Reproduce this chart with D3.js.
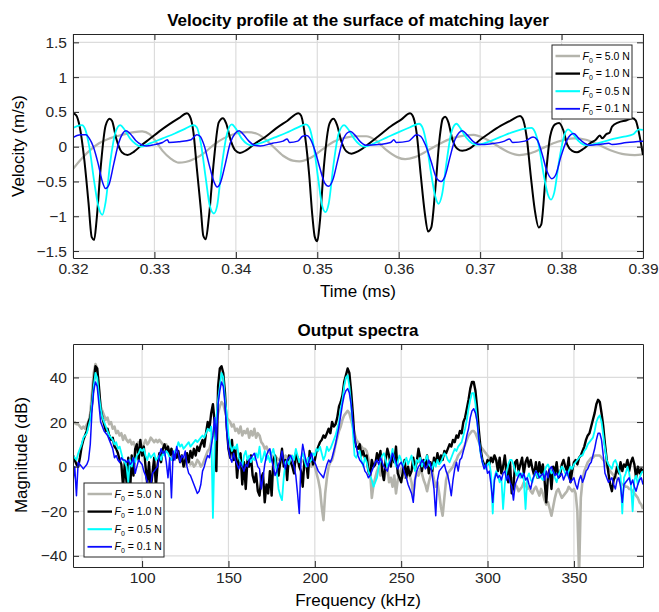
<!DOCTYPE html>
<html>
<head>
<meta charset="utf-8">
<script src="https://cdn.jsdelivr.net/npm/d3@7"></script>
<style>
  body { margin: 0; background: #fff; }
  svg { display: block; font-family: "Liberation Sans", Arial, Helvetica, sans-serif; }
</style>
</head>
<body>
<div id="chart"></div>
<script>
// series order everywhere: F0 = 5.0, 1.0, 0.5, 0.1 N
const forceLabels = ["5.0", "1.0", "0.5", "0.1"];
const lineColors = ["#b4b4ac", "#000000", "#00ffff", "#0a0aff"];
const lineWidths = [2.2, 2, 1.8, 1.5];

const timeTicks = [0.32, 0.33, 0.34, 0.35, 0.36, 0.37, 0.38, 0.39];
const velocityTicks = [-1.5, -1, -0.5, 0, 0.5, 1, 1.5];
const freqTicks = [100, 150, 200, 250, 300, 350];
const magTicks = [-40, -20, 0, 20, 40];

// velocity at matching layer surface: [time (ms), velocity (m/s)]
const vel50 = [
  [0.3200, -0.32], [0.3210, -0.18], [0.3220, -0.06], [0.3232, 0.05], [0.3245, 0.12], [0.3260, 0.17],
  [0.3275, 0.21], [0.3285, 0.22], [0.3294, 0.18], [0.3302, 0.07], [0.3310, -0.06], [0.3320, -0.17],
  [0.3330, -0.23], [0.3338, -0.22], [0.3350, -0.17], [0.3362, -0.08], [0.3372, 0.02], [0.3385, 0.12],
  [0.3400, 0.19], [0.3414, 0.21], [0.3425, 0.19], [0.3435, 0.12], [0.3446, 0.00], [0.3458, -0.13],
  [0.3470, -0.20], [0.3478, -0.21], [0.3492, -0.16], [0.3505, -0.05], [0.3520, 0.07], [0.3535, 0.13],
  [0.3550, 0.15], [0.3560, 0.15], [0.3572, 0.09], [0.3585, -0.05], [0.3598, -0.15], [0.3608, -0.18],
  [0.3620, -0.15], [0.3635, -0.06], [0.3650, 0.04], [0.3665, 0.12], [0.3680, 0.16], [0.3692, 0.17],
  [0.3705, 0.12], [0.3720, 0.02], [0.3735, -0.08], [0.3748, -0.12], [0.3760, -0.10], [0.3775, -0.03],
  [0.3795, 0.07], [0.3815, 0.12], [0.3830, 0.10], [0.3845, 0.03], [0.3860, -0.05], [0.3878, -0.11],
  [0.3890, -0.12], [0.3900, -0.11]
];
const vel10 = [
  [0.3200, 0.48], [0.3204, 0.45], [0.3208, 0.30], [0.3214, -0.20], [0.3219, -0.80], [0.3223, -1.30],
  [0.3226, -1.34], [0.3229, -1.05], [0.3234, -0.30], [0.3240, 0.30], [0.3245, 0.40], [0.3248, 0.37],
  [0.3253, 0.12], [0.3260, -0.08], [0.3267, -0.12], [0.3275, -0.07], [0.3284, 0.02], [0.3294, 0.11],
  [0.3306, 0.22], [0.3318, 0.32], [0.3330, 0.41], [0.3340, 0.48], [0.3343, 0.45], [0.3348, 0.20],
  [0.3352, -0.30], [0.3357, -0.90], [0.3360, -1.28], [0.3363, -1.33], [0.3367, -1.00], [0.3373, -0.20],
  [0.3379, 0.35], [0.3384, 0.41], [0.3388, 0.34], [0.3394, 0.08], [0.3399, -0.05], [0.3405, -0.09],
  [0.3413, -0.05], [0.3423, 0.04], [0.3436, 0.14], [0.3449, 0.26], [0.3463, 0.37], [0.3477, 0.48],
  [0.3480, 0.45], [0.3485, 0.15], [0.3490, -0.40], [0.3494, -1.00], [0.3497, -1.30], [0.3500, -1.36],
  [0.3503, -1.10], [0.3508, -0.30], [0.3515, 0.33], [0.3520, 0.40], [0.3524, 0.32], [0.3530, 0.06],
  [0.3536, -0.07], [0.3542, -0.10], [0.3551, -0.06], [0.3562, 0.03], [0.3575, 0.15], [0.3590, 0.29],
  [0.3603, 0.39], [0.3614, 0.48], [0.3617, 0.45], [0.3622, 0.20], [0.3627, -0.40], [0.3632, -0.95],
  [0.3636, -1.22], [0.3640, -1.16], [0.3645, -0.60], [0.3650, 0.10], [0.3654, 0.40], [0.3657, 0.43],
  [0.3661, 0.35], [0.3666, 0.10], [0.3672, -0.03], [0.3678, -0.06], [0.3688, -0.02], [0.3700, 0.10],
  [0.3712, 0.20], [0.3725, 0.30], [0.3738, 0.38], [0.3749, 0.44], [0.3752, 0.41], [0.3757, 0.15],
  [0.3762, -0.40], [0.3767, -0.90], [0.3772, -1.16], [0.3775, -1.12], [0.3780, -0.50], [0.3786, 0.15],
  [0.3792, 0.32], [0.3797, 0.34], [0.3802, 0.24], [0.3807, 0.03], [0.3813, -0.06], [0.3819, -0.08],
  [0.3827, -0.03], [0.3835, 0.05], [0.3842, 0.10], [0.3847, 0.16], [0.3850, 0.12], [0.3855, 0.18],
  [0.3859, 0.20], [0.3862, 0.29], [0.3870, 0.35], [0.3880, 0.38], [0.3887, 0.41], [0.3891, 0.38],
  [0.3895, 0.20], [0.3900, -0.12]
];
const vel05 = [
  [0.3200, 0.27], [0.3206, 0.30], [0.3211, 0.31], [0.3215, 0.25], [0.3220, 0.00], [0.3226, -0.50],
  [0.3231, -0.85], [0.3236, -0.98], [0.3240, -0.80], [0.3246, -0.20], [0.3252, 0.20], [0.3258, 0.31],
  [0.3263, 0.25], [0.3270, 0.12], [0.3277, 0.04], [0.3283, 0.00], [0.3295, 0.05], [0.3310, 0.12],
  [0.3325, 0.19], [0.3338, 0.26], [0.3348, 0.31], [0.3352, 0.28], [0.3357, 0.05], [0.3363, -0.45],
  [0.3368, -0.85], [0.3373, -0.96], [0.3377, -0.85], [0.3383, -0.25], [0.3389, 0.18], [0.3395, 0.32],
  [0.3400, 0.26], [0.3407, 0.12], [0.3414, 0.04], [0.3420, 0.02], [0.3432, 0.06], [0.3447, 0.13],
  [0.3462, 0.20], [0.3475, 0.27], [0.3486, 0.32], [0.3490, 0.28], [0.3495, 0.05], [0.3501, -0.45],
  [0.3506, -0.85], [0.3510, -0.94], [0.3514, -0.82], [0.3520, -0.25], [0.3526, 0.18], [0.3533, 0.31],
  [0.3538, 0.25], [0.3545, 0.12], [0.3552, 0.03], [0.3558, 0.00], [0.3570, 0.05], [0.3585, 0.13],
  [0.3600, 0.21], [0.3614, 0.28], [0.3625, 0.33], [0.3629, 0.28], [0.3634, 0.05], [0.3640, -0.40],
  [0.3645, -0.72], [0.3649, -0.82], [0.3653, -0.70], [0.3659, -0.20], [0.3665, 0.22], [0.3671, 0.33],
  [0.3676, 0.26], [0.3683, 0.13], [0.3690, 0.05], [0.3696, 0.03], [0.3710, 0.07], [0.3725, 0.14],
  [0.3740, 0.21], [0.3755, 0.26], [0.3763, 0.27], [0.3767, 0.22], [0.3772, 0.02], [0.3778, -0.40],
  [0.3783, -0.68], [0.3787, -0.76], [0.3791, -0.66], [0.3797, -0.20], [0.3803, 0.15], [0.3808, 0.25],
  [0.3813, 0.20], [0.3820, 0.09], [0.3827, 0.03], [0.3833, 0.02], [0.3845, 0.05], [0.3860, 0.10],
  [0.3875, 0.14], [0.3888, 0.18], [0.3895, 0.25], [0.3900, 0.24]
];
const vel01 = [
  [0.3200, 0.13], [0.3205, 0.16], [0.3210, 0.17], [0.3216, 0.17], [0.3220, 0.12], [0.3225, 0.00],
  [0.3231, -0.25], [0.3236, -0.50], [0.3240, -0.60], [0.3244, -0.55], [0.3250, -0.25], [0.3256, 0.05],
  [0.3261, 0.19], [0.3265, 0.23], [0.3270, 0.19], [0.3277, 0.09], [0.3284, 0.03], [0.3290, 0.01],
  [0.3300, 0.03], [0.3310, 0.06], [0.3316, 0.10], [0.3318, 0.06], [0.3330, 0.07], [0.3345, 0.10],
  [0.3352, 0.17], [0.3356, 0.15], [0.3361, 0.02], [0.3367, -0.25], [0.3373, -0.50], [0.3377, -0.58],
  [0.3381, -0.52], [0.3387, -0.25], [0.3393, 0.05], [0.3399, 0.19], [0.3404, 0.23], [0.3409, 0.18],
  [0.3416, 0.08], [0.3423, 0.02], [0.3430, 0.01], [0.3445, 0.05], [0.3458, 0.08], [0.3463, 0.11],
  [0.3466, 0.06], [0.3476, 0.08], [0.3482, 0.15], [0.3487, 0.16], [0.3491, 0.12], [0.3497, -0.05],
  [0.3503, -0.30], [0.3509, -0.52], [0.3514, -0.57], [0.3519, -0.48], [0.3525, -0.20], [0.3531, 0.08],
  [0.3537, 0.20], [0.3541, 0.22], [0.3546, 0.17], [0.3553, 0.07], [0.3560, 0.02], [0.3575, 0.03],
  [0.3590, 0.06], [0.3594, 0.10], [0.3597, 0.06], [0.3612, 0.08], [0.3622, 0.17], [0.3627, 0.15],
  [0.3633, 0.02], [0.3640, -0.22], [0.3646, -0.44], [0.3652, -0.50], [0.3657, -0.42], [0.3663, -0.15],
  [0.3669, 0.10], [0.3674, 0.20], [0.3678, 0.23], [0.3684, 0.17], [0.3692, 0.07], [0.3700, 0.03],
  [0.3712, 0.04], [0.3730, 0.08], [0.3736, 0.11], [0.3740, 0.06], [0.3755, 0.08], [0.3765, 0.14],
  [0.3770, 0.10], [0.3776, -0.10], [0.3782, -0.35], [0.3788, -0.46], [0.3793, -0.40], [0.3799, -0.15],
  [0.3806, 0.08], [0.3811, 0.17], [0.3815, 0.19], [0.3821, 0.12], [0.3828, 0.05], [0.3835, 0.02],
  [0.3850, 0.04], [0.3858, 0.05], [0.3862, 0.03], [0.3880, 0.06], [0.3900, 0.08]
];

// output spectra, one value (dB) per kHz from 60 to 390 kHz
const freqKHz = d3.range(60, 391);
const mag50 = [
  19, 20, 19, 19, 18, 17, 18, 17, 19, 20,
  24, 33, 42, 46, 44, 34, 27, 25, 23, 21,
  22, 19, 20, 17, 18, 15, 16, 14, 15, 12,
  14, 12, 11, 12, 10, 11, 9, 10, 11, 9,
  8, 10, 12, 10, 11, 13, 12, 11, 12, 11,
  12, 11, 10, 9, 10, 8, 7, 8, 6, 5,
  5, 4, 3, 4, 2, 0, 2, 3, 1, 2,
  0, 1, 3, 2, 0, 1, 3, 5, 7, 8,
  11, 14, 17, 20, 24, 27, 29, 28, 25, 22,
  21, 20, 18, 19, 16, 17, 15, 18, 14, 16,
  15, 17, 13, 16, 14, 17, 13, 15, 14, 11,
  10, 8, 9, 7, 6, 5, 4, 3, 4, 3,
  3, 2, 3, 5, 4, 3, 5, 4, 3, 2,
  4, 3, 2, 3, 2, 3, 1, 2, 0, 1,
  0, -3, -6, -10, -18, -24, -12, -5, 0, 2,
  3, 6, 10, 13, 16, 18, 21, 23, 24, 25,
  24, 21, 18, 15, 12, 11, 10, 9, 8, 8,
  7, 4, -2, -14, -8, -5, -2, 0, -4, -3,
  -6, -2, 0, -7, -5, -9, -4, -12, -6, -3,
  -1, 0, -5, -3, -2, -4, -7, -13, -6, -2,
  -4, -1, -3, -6, -8, -11, -7, -4, -2, -6,
  -9, -7, -12, -18, -22, -14, -6, -3, -2, -1,
  0, 2, 3, 5, 6, 7, 8, 10, 12, 14,
  15, 16, 16, 15, 13, 11, 9, 8, 7, 6,
  5, 4, 3, 4, 5, 3, 2, 1, 0, -1,
  0, -3, -4, -6, -5, -7, -8, -9, -11, -10,
  -9, -7, -8, -10, -9, -11, -12, -10, -9, -11,
  -13, -10, -12, -15, -17, -16, -19, -22, -18, -14,
  -11, -10, -12, -14, -13, -12, -11, -9, -10, -11,
  -10, -12, -20, -48, -14, -6, -2, 0, 2, 3,
  4, 4, 5, 5, 5, 5, 4, 3, 2, 0,
  -1, -2, -3, -4, -5, -5, -6, -7, -8, -8,
  -9, -9, -10, -10, -11, -12, -13, -14, -16, -17,
  -19
];
const mag10 = [
  5, 3, 1, 0, 4, 9, 12, 14, 16, 20,
  22, 28, 38, 45, 44, 36, 26, 22, 19, 16,
  17, 14, 12, 13, 9, 8, 6, 3, 1, -9,
  2, -7, 4, -12, 5, -4, 8, 10, 3, 12,
  5, 9, 0, -8, 2, -10, -3, 4, -9, 1,
  6, 2, 8, 10, 7, 9, 5, 8, 3, 6,
  4, 7, 2, 5, 0, 3, 6, 2, 7, 4,
  8, 5, 9, 7, 10, 12, 9, 15, 20, 17,
  24, 28, 20, -2, 36, 44, 45, 42, 33, 18,
  8, 4, 12, 3, 8, -5, 4, 6, -8, 2,
  -10, 3, 0, 5, -4, -7, -3, -11, -13, -5,
  -3, -16, -8, -12, -2, -13, 3, 5, 0, -4,
  2, 8, 0, 3, -6, 5, 2, 0, -3, 6,
  4, 0, -2, -9, 3, 2, -5, 7, 4, 1,
  3, 7, 9, 11, 12, 14, 13, 15, 17, 15,
  20, 18, 19, 22, 27, 29, 32, 38, 41, 44,
  42, 34, 24, 12, 9, 8, 10, 5, 7, 4,
  5, -2, -4, 3, 0, 1, 6, 3, 7, -2,
  -6, 3, 8, 5, 0, 6, 2, 9, -3, -5,
  -7, -2, 3, -5, 0, -4, -2, 4, -1, 2,
  8, 4, -2, 3, 0, 5, -3, 2, -2, 4,
  1, 6, 2, 5, 3, 7, 6, 8, 10, 9,
  12, 11, 14, 13, 16, 15, 20, 22, 26, 30,
  35, 38, 38, 34, 26, 16, 8, 3, 1, 0,
  3, 1, 4, 2, 5, 3, -2, 4, -3, 0,
  5, -2, -7, 2, -12, -9, 2, 3, -2, 1,
  4, -3, 2, 4, 0, 3, -1, -4, 2, -5,
  2, -3, 1, -6, -16, -4, -1, -10, 0, -3,
  2, -5, -4, 1, 3, 0, -2, 4, -7, -2,
  2, 3, 1, 4, 5, 7, 9, 12, 14, 15,
  18, 21, 24, 28, 30, 29, 24, 18, 10, 3,
  -3, -8, -11, -6, -4, 0, -3, 2, -2, 1,
  0, 3, -2, 2, 4, 1, -5, 0, -3, -1,
  -2
];
const mag05 = [
  5, 4, 3, 6, 8, 10, 13, 14, 15, 18,
  21, 28, 36, 42, 40, 32, 26, 22, 20, 18,
  16, 14, 13, 12, 10, 11, 8, 9, 6, 3,
  2, 0, -7, 3, 0, 4, 2, 5, 6, 8,
  7, 8, 5, 3, 6, 4, 5, 6, 3, 4,
  5, 3, 6, 5, 7, 6, 4, 3, 5, 7,
  8, 11, 9, 10, 8, 9, 10, 11, 9, 10,
  11, 12, 11, 12, 13, 14, 13, 15, 17, 16,
  18, -23, 10, 22, 30, 36, 42, 40, 30, 24,
  14, 10, 7, 9, 8, 10, 4, 2, 0, 5,
  7, 3, 5, 2, 4, 3, 6, 4, 9, 2,
  4, 7, 3, 5, 2, 6, 8, 4, -3, -10,
  -13, -15, -5, 2, 3, 1, 4, 5, 3, 8,
  5, 2, 4, 6, 3, 0, 4, 2, 3, 6,
  5, 8, 7, 9, 6, 3, 5, 9, 7, 8,
  10, 12, 14, 17, 20, 26, 30, 36, 40, 41,
  36, 28, 16, 5, 4, 6, 7, 3, 0, 4,
  2, -2, -4, -6, -9, -7, -5, 0, 3, 5,
  6, 3, 0, 2, 4, 8, 3, 0, 2, 5,
  3, 0, 2, 4, 1, 3, 5, 1, -2, 3,
  2, 4, 0, 2, 3, 5, 1, 0, -1, 2,
  0, 3, 1, 2, 4, 6, 5, 3, 2, 4,
  6, 8, 7, 9, 10, 11, 14, 17, 21, 26,
  30, 33, 33, 28, 20, 12, 6, 2, 0, -1,
  1, 2, -3, -21, -5, -2, -4, -7, -5, -19,
  -8, -2, 1, 3, 3, 1, -2, -4, -2, -5,
  -3, -6, -19, -5, -3, -6, -7, -4, -2, -5,
  -3, -5, -6, -2, 0, 1, -1, -3, -2, -5,
  -7, -4, -2, 0, -1, -3, -4, -2, 0, -1,
  1, 2, 3, 4, 5, 5, 7, 8, 10, 11,
  12, 13, 16, 20, 22, 23, 20, 14, 8, 3,
  1, 0, -1, 2, 3, 1, -2, -4, -21, -5,
  -3, 0, -3, -8, -20, -6, -4, -8, -5, -3,
  -2
];
const mag01 = [
  -7, 0, -13, 2, 1, 0, -1, 0, 1, 3,
  10, 25, 34, 38, 36, 28, 20, 18, 16, 15,
  14, 12, 10, 8, 4, 5, 3, 2, 4, 3,
  3, 2, 3, 1, 2, 4, -3, 0, 3, 2,
  1, -2, -4, -7, -10, -8, -3, -2, -1, 0,
  5, 8, 6, 7, 2, -5, 4, -14, 7, 3,
  9, 6, 2, 5, 4, 7, 0, -3, -4, -6,
  -8, -10, -12, -11, -8, -2, 0, 3, 5, 4,
  9, 14, 22, 12, 28, 34, 38, 36, 28, 16,
  8, 4, 2, 6, 3, 1, -1, 2, 0, -2,
  1, 0, 3, 4, 5, 6, 3, 0, -1, -10,
  -5, 1, 5, 7, 8, 3, 0, -4, -2, 1,
  3, 7, 2, -1, 3, 4, 5, 3, 0, -4,
  -12, -21, 3, 10, 6, 2, 0, 4, 6, 3,
  2, 0, -2, -3, -4, -5, -2, 1, 3, 2,
  4, 7, 10, 14, 18, 23, 28, 32, 34, 35,
  33, 28, 20, 13, 9, 5, 3, 2, 1, -2,
  -3, -5, -4, -2, 0, 2, 3, 1, 4, 2,
  0, -1, -2, 1, 3, 6, 4, 2, -1, 1,
  2, 0, -3, -5, -8, -10, -12, -16, -6, -2,
  0, 1, 3, 2, -1, 0, 3, 1, -4, -10,
  -22, -6, -2, -1, 0, 1, -2, -4, -8, -13,
  -6, -1, 2, -2, 3, 4, 7, 10, 14, 17,
  22, 25, 26, 24, 20, 12, 6, 2, -1, 1,
  -3, -2, -8, -16, -6, -3, -5, -4, -6, -3,
  -2, -6, -4, -7, -9, -15, -8, -6, -4, -3,
  -5, -3, -6, -5, -8, -10, -6, -4, -2, -3,
  -5, -4, -3, -6, -2, -5, -1, 0, -2, -4,
  -3, -5, -4, -3, -6, -4, -2, -5, -7, -6,
  -5, -8, -10, -6, -4, -7, -5, -2, -1, 1,
  2, 5, 8, 12, 15, 15, 12, 5, -3, -5,
  -7, -6, -5, -8, -10, -6, -5, -9, -16, -8,
  -7, -6, -5, -8, -6, -9, -11, -8, -6, -5,
  -8
];

const width = 659;
const height = 612;
const tickFont = 15.5;
const labelFont = 17;

const svg = d3.select("#chart")
              .append("svg")
              .attr("width", width)
              .attr("height", height);

// one set of axes with grid, inward ticks on all sides and a box
function drawAxes(box, x, y, xTicks, yTicks, xFmt, yFmt, clipId) {
  const w = box.right - box.left;
  const h = box.bottom - box.top;

  // GRID
  const grid = svg.append("g");
  grid.selectAll(".vg")
      .data(xTicks)
      .join("line")
      .attr("x1", d => x(d)).attr("x2", d => x(d))
      .attr("y1", box.top).attr("y2", box.bottom)
      .attr("stroke", "#dcdcdc").attr("stroke-width", 1.2);
  grid.selectAll(".hg")
      .data(yTicks)
      .join("line")
      .attr("x1", box.left).attr("x2", box.right)
      .attr("y1", d => y(d)).attr("y2", d => y(d))
      .attr("stroke", "#dcdcdc").attr("stroke-width", 1.2);

  svg.append("clipPath")
     .attr("id", clipId)
     .append("rect")
     .attr("x", box.left).attr("y", box.top)
     .attr("width", w).attr("height", h);

  return function finish() {
    const style = a => {
      a.selectAll("path, line").attr("stroke", "#262626");
      a.selectAll("text").attr("font-size", tickFont).attr("fill", "#262626")
       .attr("font-family", "\"Liberation Sans\", Arial, sans-serif");
    };
    svg.append("g")
       .attr("transform", `translate(0,${box.bottom})`)
       .call(d3.axisBottom(x).tickValues(xTicks).tickFormat(xFmt)
               .tickSizeInner(-6).tickSizeOuter(0).tickPadding(5))
       .call(style);
    svg.append("g")
       .attr("transform", `translate(0,${box.top})`)
       .call(d3.axisTop(x).tickValues(xTicks).tickFormat("")
               .tickSizeInner(-6).tickSizeOuter(0))
       .call(style);
    svg.append("g")
       .attr("transform", `translate(${box.left},0)`)
       .call(d3.axisLeft(y).tickValues(yTicks).tickFormat(yFmt)
               .tickSizeInner(-6).tickSizeOuter(0).tickPadding(6))
       .call(style);
    svg.append("g")
       .attr("transform", `translate(${box.right},0)`)
       .call(d3.axisRight(y).tickValues(yTicks).tickFormat("")
               .tickSizeInner(-6).tickSizeOuter(0))
       .call(style);
  };
}

function drawLegend(lx, ly) {
  const legend = svg.append("g").attr("transform", `translate(${lx},${ly})`);
  legend.append("rect")
        .attr("width", 80).attr("height", 74)
        .attr("fill", "#fff").attr("stroke", "#262626").attr("stroke-width", 1);
  forceLabels.forEach((lab, i) => {
    const ry = 11 + i * 17.6;
    legend.append("line")
          .attr("x1", 3.5).attr("x2", 28)
          .attr("y1", ry).attr("y2", ry)
          .attr("stroke", lineColors[i])
          .attr("stroke-width", lineWidths[i] + 0.3);
    const t = legend.append("text")
                    .attr("x", 30.5).attr("y", ry + 3.6)
                    .attr("font-size", 10.5).attr("fill", "#000");
    t.append("tspan").attr("font-style", "italic").text("F");
    t.append("tspan").attr("font-size", 7).attr("dy", 3).text("0");
    t.append("tspan").attr("dy", -3).text(` = ${lab} N`);
  });
}

// ---------- TOP: VELOCITY PROFILE ----------
const topBox = { left: 73, right: 643, top: 34, bottom: 258 };
const xTime = d3.scaleLinear().domain([0.32, 0.39]).range([topBox.left, topBox.right]);
const yVel = d3.scaleLinear().domain([-1.6, 1.62]).range([topBox.bottom, topBox.top]);

const finishTop = drawAxes(topBox, xTime, yVel, timeTicks, velocityTicks,
                           d3.format(".2f"), d3.format("~g"), "clipTop");

const velLine = d3.line()
                  .x(d => xTime(d[0]))
                  .y(d => yVel(d[1]))
                  .curve(d3.curveMonotoneX);

[vel50, vel10, vel05, vel01].forEach((series, i) => {
  svg.append("path")
     .datum(series)
     .attr("clip-path", "url(#clipTop)")
     .attr("fill", "none")
     .attr("stroke", lineColors[i])
     .attr("stroke-width", lineWidths[i])
     .attr("stroke-linejoin", "round")
     .attr("d", velLine);
});
finishTop();
drawLegend(552, 45);

svg.append("text")
   .attr("x", 358).attr("y", 25.5)
   .attr("text-anchor", "middle")
   .attr("font-size", labelFont).attr("font-weight", "bold")
   .text("Velocity profile at the surface of matching layer");
svg.append("text")
   .attr("x", 358).attr("y", 297)
   .attr("text-anchor", "middle")
   .attr("font-size", labelFont)
   .text("Time (ms)");
svg.append("text")
   .attr("transform", "translate(24,146) rotate(-90)")
   .attr("text-anchor", "middle")
   .attr("font-size", labelFont)
   .text("Velocity (m/s)");

// ---------- BOTTOM: OUTPUT SPECTRA ----------
const botBox = { left: 73, right: 643, top: 344, bottom: 567 };
const xFreq = d3.scaleLinear().domain([60, 390]).range([botBox.left, botBox.right]);
const yMag = d3.scaleLinear().domain([-45, 55]).range([botBox.bottom, botBox.top]);

const finishBot = drawAxes(botBox, xFreq, yMag, freqTicks, magTicks,
                           d3.format("d"), d3.format("d"), "clipBot");

const magLine = d3.line()
                  .x((d, i) => xFreq(freqKHz[i]))
                  .y(d => yMag(d));

[mag50, mag10, mag05, mag01].forEach((series, i) => {
  svg.append("path")
     .datum(series)
     .attr("clip-path", "url(#clipBot)")
     .attr("fill", "none")
     .attr("stroke", lineColors[i])
     .attr("stroke-width", i < 2 ? lineWidths[i] + 0.4 : lineWidths[i])
     .attr("stroke-linejoin", "round")
     .attr("d", magLine);
});
finishBot();
drawLegend(84, 483);

svg.append("text")
   .attr("x", 358).attr("y", 335.5)
   .attr("text-anchor", "middle")
   .attr("font-size", labelFont).attr("font-weight", "bold")
   .text("Output spectra");
svg.append("text")
   .attr("x", 358).attr("y", 606)
   .attr("text-anchor", "middle")
   .attr("font-size", labelFont)
   .text("Frequency (kHz)");
svg.append("text")
   .attr("transform", "translate(27,455) rotate(-90)")
   .attr("text-anchor", "middle")
   .attr("font-size", labelFont)
   .text("Magnitude (dB)");
</script>
</body>
</html>
